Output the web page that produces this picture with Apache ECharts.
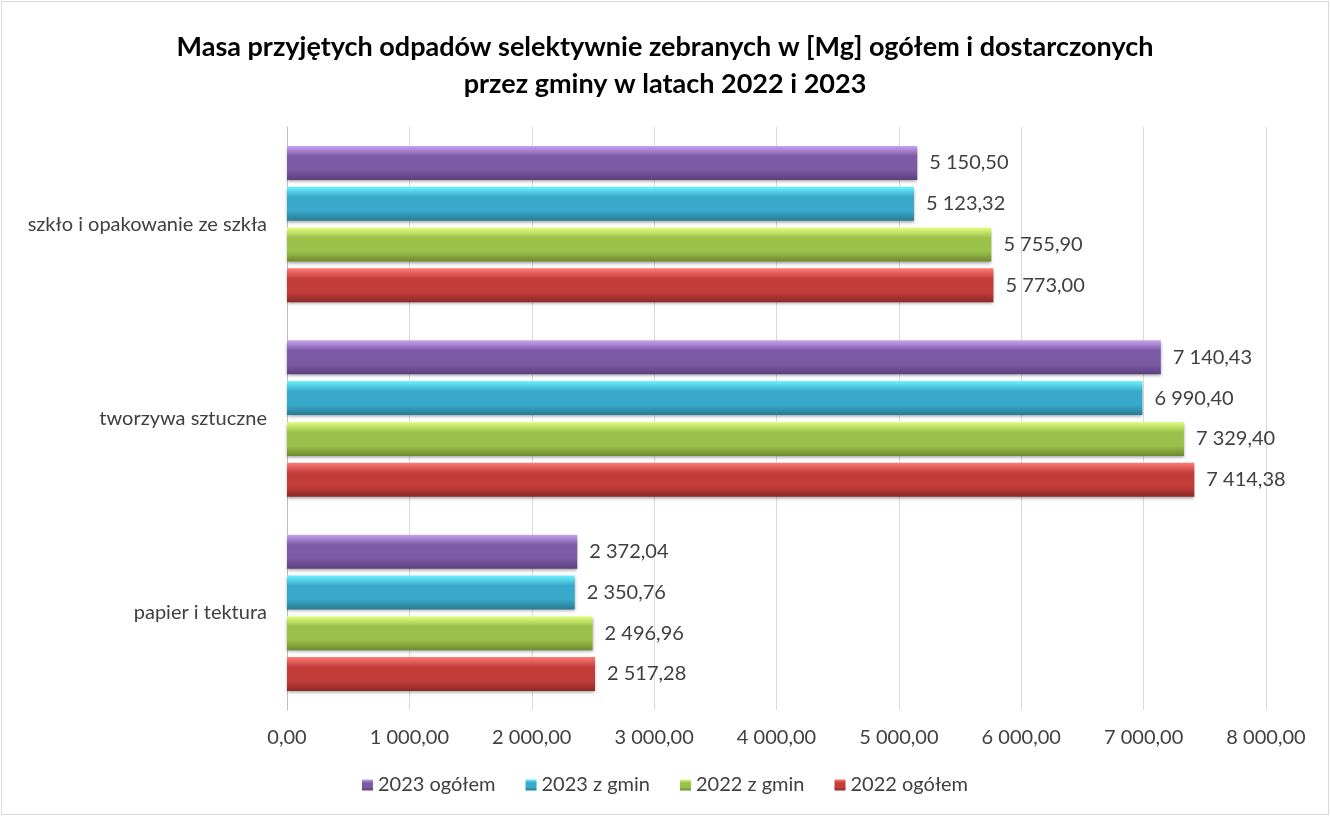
<!DOCTYPE html>
<html>
<head>
<meta charset="utf-8">
<script src="https://cdn.jsdelivr.net/npm/echarts@6/dist/echarts.min.js"></script>
<style>
  html, body { margin: 0; padding: 0; background: #fff; }
  #chart { width: 1326px; height: 812px; border: 1px solid #d9d9d9; margin: 1px; }
</style>
</head>
<body>
<div id="chart"></div>
<script>
// kategorie od dołu do góry
var categories = ['papier i tektura', 'tworzywa sztuczne', 'szkło i opakowanie ze szkła']
var seriesNames = ['2023 ogółem', '2023 z gmin', '2022 z gmin', '2022 ogółem']
var ogolem2023 = [2372.04, 7140.43, 5150.50]
var zGmin2023 = [2350.76, 6990.40, 5123.32]
var zGmin2022 = [2496.96, 7329.40, 5755.90]
var ogolem2022 = [2517.28, 7414.38, 5773.00]

var colors = [
  ['#c9a3f2', '#7d5aa5', '#5c407e'],
  ['#6cf2ff', '#38a9ca', '#287a93'],
  ['#e2ff84', '#9cc14a', '#6c8a2e'],
  ['#ff7b76', '#c23d39', '#8c2826']
]

function fmt (v) {
  var parts = v.toFixed(2).split('.')
  parts[0] = parts[0].replace(/\B(?=(\d{3})+(?!\d))/g, ' ')
  return parts.join(',')
}

function grad (c) {
  return new echarts.graphic.LinearGradient(0, 0, 0, 1, [
    { offset: 0, color: c[0] },
    { offset: 0.3, color: c[1] },
    { offset: 0.7, color: c[1] },
    { offset: 1, color: c[2] }
  ])
}

var font = "Lato, 'Open Sans', sans-serif"

var dataList = [ogolem2023, zGmin2023, zGmin2022, ogolem2022]
var series = dataList.map(function (d, i) {
  return {
    name: seriesNames[i],
    type: 'bar',
    data: d,
    barWidth: 34,
    barGap: '20%',
    itemStyle: {
      color: grad(colors[i]),
      shadowBlur: 3,
      shadowColor: 'rgba(0,0,0,0.35)',
      shadowOffsetY: 2
    },
    label: {
      show: true,
      position: 'right',
      distance: 12,
      color: '#404040',
      fontSize: 20,
      fontFamily: font,
      formatter: function (p) { return fmt(p.value) }
    }
  }
})

var chart = echarts.init(document.getElementById('chart'))
chart.setOption({
  animation: false,
  title: {
    text: 'Masa przyjętych odpadów selektywnie zebranych w [Mg] ogółem i dostarczonych\nprzez gminy w latach 2022 i 2023',
    left: 'center',
    top: 22,
    textStyle: { fontSize: 27, fontWeight: 'bold', color: '#000', fontFamily: font, lineHeight: 37 }
  },
  legend: {
    bottom: 14,
    left: 'center',
    itemWidth: 11,
    itemHeight: 11,
    itemGap: 30,
    icon: 'rect',
    textStyle: { fontSize: 20, color: '#404040', fontFamily: font },
    data: seriesNames
  },
  grid: { left: 285, right: 62, top: 125, bottom: 104, containLabel: false },
  xAxis: {
    type: 'value',
    min: 0,
    max: 8000,
    interval: 1000,
    axisLine: { show: false },
    axisTick: { show: false },
    splitLine: { lineStyle: { color: '#d9d9d9' } },
    axisLabel: {
      color: '#404040',
      fontSize: 20,
      fontFamily: font,
      margin: 18,
      formatter: function (v) { return fmt(v) }
    }
  },
  yAxis: {
    type: 'category',
    data: categories,
    axisLine: { lineStyle: { color: '#bfbfbf' } },
    axisTick: { show: false },
    axisLabel: { color: '#404040', fontSize: 20, fontFamily: font, margin: 20 }
  },
  series: series
})
</script>
</body>
</html>
